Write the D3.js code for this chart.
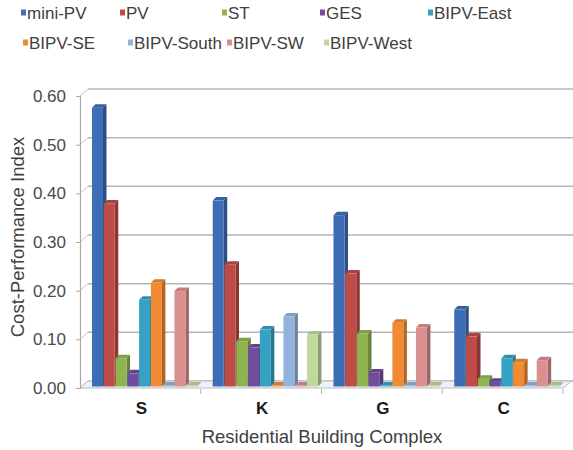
<!DOCTYPE html>
<html>
<head>
<meta charset="utf-8">
<script src="https://cdn.jsdelivr.net/npm/d3@7"></script>
<style>
  html, body { margin: 0; padding: 0; background: #fff; }
  svg { display: block; font-family: "Liberation Sans", Arial, sans-serif; }
</style>
</head>
<body>
<svg id="chart" width="573" height="450"></svg>
<script>
// Cost-performance index per residential building complex and technology
const categories = ["S", "K", "G", "C"];
const series = ["mini-PV", "PV", "ST", "GES", "BIPV-East", "BIPV-SE", "BIPV-South", "BIPV-SW", "BIPV-West"];
const miniPV    = [0.573, 0.382, 0.352, 0.158];
const pv        = [0.376, 0.250, 0.232, 0.103];
const st        = [0.058, 0.093, 0.109, 0.016];
const ges       = [0.027, 0.080, 0.029, 0.010];
const bipvEast  = [0.178, 0.117, 0.002, 0.058];
const bipvSE    = [0.213, 0.002, 0.131, 0.050];
const bipvSouth = [0.002, 0.144, 0.002, 0.002];
const bipvSW    = [0.196, 0.002, 0.121, 0.054];
const bipvWest  = [0.002, 0.107, 0.002, 0.002];
const yTicks = [0, 0.1, 0.2, 0.3, 0.4, 0.5, 0.6];
const colors = ["#3D6DB5", "#BE4B48", "#8EB450", "#6F4D9E", "#35A2C4", "#F28A33", "#94B3DC", "#D9908F", "#C0D89C"];

const values = [miniPV, pv, st, ges, bipvEast, bipvSE, bipvSouth, bipvSW, bipvWest];

const svg = d3.select("#chart");

// plot frame (front plane) and 3D wall depth
const plotLeft = 80, plotRight = 563, plotBase = 388, plotTop = 96;
const wallDx = 8, wallDy = -7;
const barD = 3.5;

const y = d3.scaleLinear().domain([0, 0.6]).range([plotBase, plotTop]);
const x0 = d3.scaleBand().domain(categories).range([plotLeft, plotRight]).padding(0);
const x1 = d3.scaleBand().domain(series).range([12, 118]).padding(0);

// back-wall gridlines
const grid = svg.append("g");
yTicks.forEach(t => {
  grid.append("line")
    .attr("x1", plotLeft + wallDx).attr("x2", 573)
    .attr("y1", y(t) + wallDy).attr("y2", y(t) + wallDy)
    .attr("stroke", "#b5b5b5").attr("stroke-width", 1.5);
  grid.append("line")
    .attr("x1", plotLeft).attr("x2", plotLeft + wallDx)
    .attr("y1", y(t)).attr("y2", y(t) + wallDy)
    .attr("stroke", "#c4c4c4").attr("stroke-width", 1);
});

// floor
svg.append("path")
  .attr("d", `M${plotLeft},${plotBase}L${plotRight},${plotBase}L${plotRight + 9},${plotBase - 7}L${plotLeft + wallDx},${plotBase - 7}Z`)
  .attr("fill", "#eef1f5").attr("stroke", "#b8bcc4").attr("stroke-width", 1);

// y axis (front edge of side wall) with ticks and labels
const yAxis = d3.axisLeft(y).tickValues(yTicks).tickFormat(d3.format(".2f")).tickSize(4).tickPadding(10);
const yg = svg.append("g").attr("transform", `translate(${plotLeft},0)`).call(yAxis);
yg.select(".domain").attr("stroke", "#a8a8a8").attr("stroke-width", 1.2);
yg.selectAll(".tick line").attr("stroke", "#a8a8a8");
yg.selectAll(".tick text")
  .attr("font-size", 17).attr("fill", "#4a4a4a")
  .attr("font-family", "Liberation Sans, Arial, sans-serif");

// category axis labels
const xAxis = d3.axisBottom(x0).tickSize(0).tickPadding(14);
const xg = svg.append("g").attr("transform", `translate(1,${plotBase})`).call(xAxis);
xg.select(".domain").remove();
xg.selectAll(".tick text")
  .attr("font-size", 17).attr("font-weight", "bold").attr("fill", "#1a1a1a")
  .attr("font-family", "Liberation Sans, Arial, sans-serif");
// category boundary ticks
d3.range(1, categories.length + 1).forEach(i => {
  const xv = plotLeft + i * x0.step();
  svg.append("line")
    .attr("x1", xv).attr("x2", xv).attr("y1", plotBase + 1).attr("y2", plotBase + 6)
    .attr("stroke", "#b0b0b0").attr("stroke-width", 1);
});

// 3D columns
const bars = svg.append("g");
const w = x1.bandwidth() - 0.8;
categories.forEach((c, ci) => {
  series.forEach((s, si) => {
    const v = values[si][ci];
    const col = d3.color(colors[si]);
    const xl = x0(c) + x1(s);
    const yt = y(v) - 1.5;
    const yb = plotBase - 1.5;
    const g = bars.append("g");
    // side face
    g.append("path")
      .attr("d", `M${xl + w},${yt}L${xl + w + barD},${yt - barD}L${xl + w + barD},${yb - barD}L${xl + w},${yb}Z`)
      .attr("fill", col.darker(0.9));
    // top face
    g.append("path")
      .attr("d", `M${xl},${yt}L${xl + w},${yt}L${xl + w + barD},${yt - barD}L${xl + barD},${yt - barD}Z`)
      .attr("fill", col.darker(0.35));
    // front face
    g.append("rect")
      .attr("x", xl).attr("y", yt).attr("width", w).attr("height", Math.max(0.8, yb - yt))
      .attr("fill", col);
  });
});

// legend
const legendPos = [[21, 13], [120, 13], [222, 13], [320, 13], [428, 13],
                   [23, 43], [128, 43], [227, 43], [324, 43]];
const lg = svg.append("g");
series.forEach((s, i) => {
  const [lx, ly] = legendPos[i];
  lg.append("rect").attr("x", lx).attr("y", ly - 3.5).attr("width", 5).attr("height", 6).attr("fill", colors[i]);
  lg.append("text").attr("x", lx + 6).attr("y", ly).attr("dy", "0.35em")
    .attr("font-size", 17).attr("fill", "#404040").text(s);
});

// axis titles
svg.append("text")
  .attr("transform", "translate(18,237) rotate(-90)")
  .attr("text-anchor", "middle").attr("dy", "0.35em")
  .attr("font-size", 18.5).attr("fill", "#404040")
  .text("Cost-Performance Index");
svg.append("text")
  .attr("x", 322).attr("y", 437).attr("dy", "0.35em")
  .attr("text-anchor", "middle")
  .attr("font-size", 18.5).attr("fill", "#404040")
  .text("Residential Building Complex");
</script>
</body>
</html>
